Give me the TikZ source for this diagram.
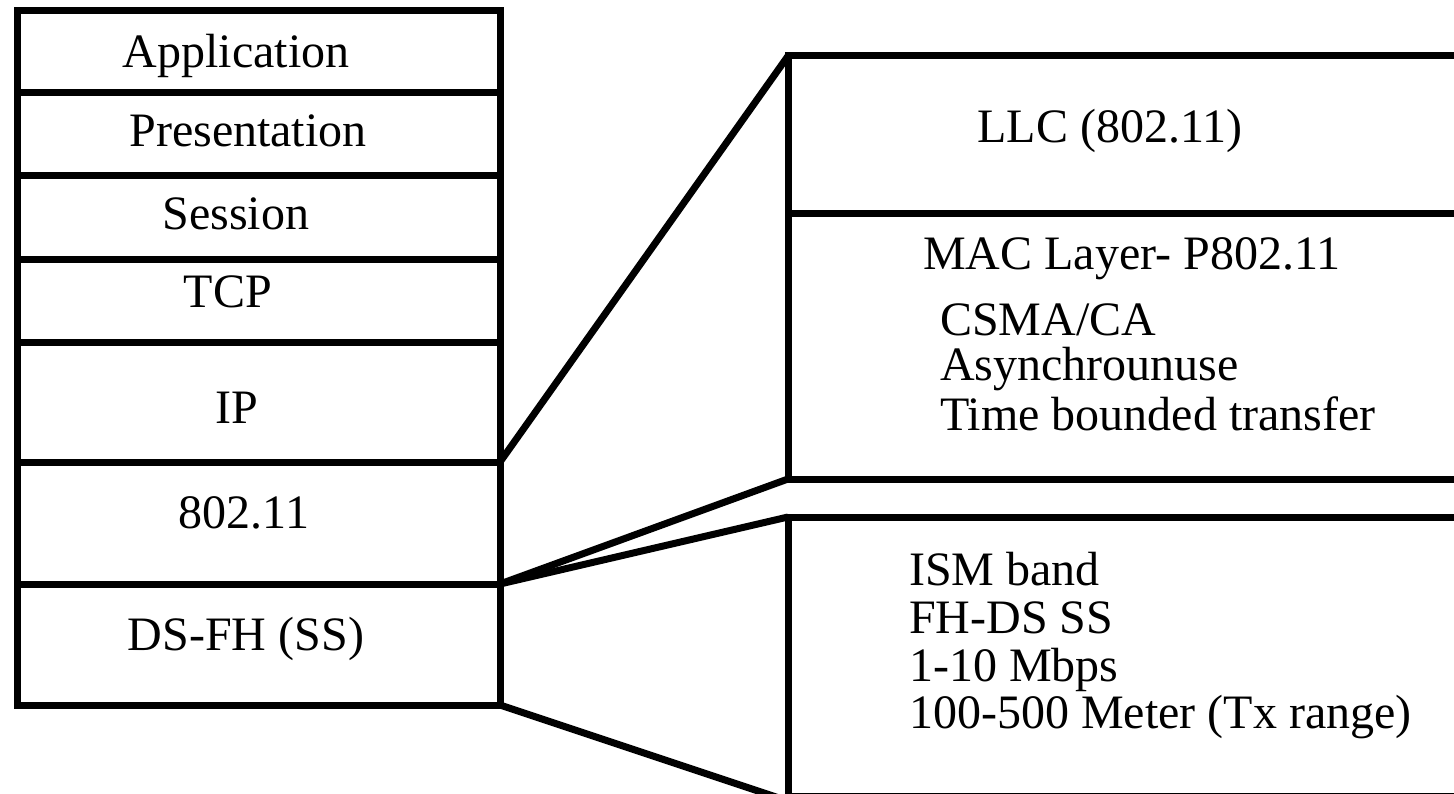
\documentclass[tikz,border=0pt]{standalone}
\usepackage{fontspec}
\setmainfont{Liberation Serif}
\begin{document}
\begin{tikzpicture}[x=1pt,y=-1pt,
  layerbox/.style={draw=black,line width=7pt,outer sep=0pt,inner sep=0pt,anchor=north west},
  lbl/.style={font=\fontsize{48}{55}\selectfont,inner sep=0pt,anchor=base},
  lbll/.style={font=\fontsize{48}{55}\selectfont,inner sep=0pt,anchor=base west},
  conn/.style={line width=7pt}]
\useasboundingbox (0,0) rectangle (1454,794);
\clip (0,0) rectangle (1454,794);
\fill[white] (0,0) rectangle (1454,794);
% left stack
\node[layerbox,minimum width=483pt,minimum height=82.5pt] (app) at (17,10.5) {};
\node[layerbox,minimum width=483pt,minimum height=83pt] (pres) at (17,93) {};
\node[layerbox,minimum width=483pt,minimum height=84pt] (sess) at (17,176) {};
\node[layerbox,minimum width=483pt,minimum height=83pt] (tcp) at (17,260) {};
\node[layerbox,minimum width=483pt,minimum height=119pt] (ip) at (17,343) {};
\node[layerbox,minimum width=483pt,minimum height=122pt] (wlan) at (17,462) {};
\node[layerbox,minimum width=483pt,minimum height=121pt] (phys) at (17,584) {};
\node[lbl] (tapp) at (236,68) {Application};
\node[lbl] (tpres) at (248,147) {Presentation};
\node[lbl] (tsess) at (236,230) {Session};
\node[lbl] (ttcp) at (228,308) {TCP};
\node[lbl] (tip) at (237,423) {IP};
\node[lbl] (twlan) at (244,528) {802.11};
\node[lbl] (tphys) at (246,650) {DS-FH (SS)};
% right boxes
\node[layerbox,minimum width=690pt,minimum height=158pt] (llc) at (788,56) {};
\node[layerbox,minimum width=690pt,minimum height=265pt] (mac) at (788,214) {};
\node[layerbox,minimum width=690pt,minimum height=279pt] (phy) at (788,517) {};
\node[lbl] (tllc) at (1110,143) {LLC (802.11)};
\node[lbll] (tmac) at (923,270) {MAC Layer- P802.11};
\node[lbll] (tcsma) at (940,335) {CSMA/CA};
\node[lbll] (tasyn) at (940,380) {Asynchrounuse};
\node[lbll] (ttbt) at (940,430) {Time bounded transfer};
\node[lbll] (tism) at (909,585) {ISM band};
\node[lbll] (tfhds) at (909,633) {FH-DS SS};
\node[lbll] (trate) at (909,681) {1-10 Mbps};
\node[lbll] (trange) at (909,728) {100-500 Meter (Tx range)};
% connectors
\draw[conn] (ip.south east) -- (llc.north west);
\draw[conn] (wlan.south east) -- (mac.south west);
\draw[conn] (wlan.south east) -- (phy.north west);
\draw[conn] (phys.south east) -- ([yshift=-5pt]phy.south west);
\end{tikzpicture}
\end{document}
